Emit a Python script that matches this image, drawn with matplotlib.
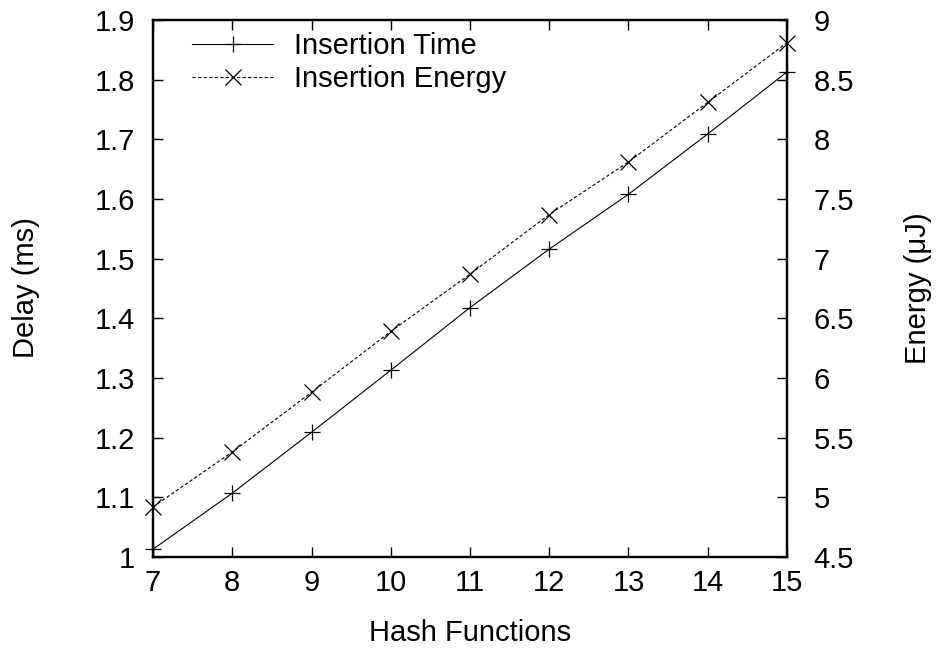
import matplotlib
matplotlib.use("Agg")
import matplotlib.pyplot as plt

plt.rcParams['font.family'] = ['Liberation Sans', 'DejaVu Sans']

# data
hash_functions = [7, 8, 9, 10, 11, 12, 13, 14, 15]
delay_ms = [1.013, 1.107, 1.209, 1.313, 1.418, 1.516, 1.608, 1.709, 1.813]
energy_uj = [4.92, 5.38, 5.88, 6.39, 6.87, 7.37, 7.81, 8.31, 8.81]

delay_ticks = [1.0, 1.1, 1.2, 1.3, 1.4, 1.5, 1.6, 1.7, 1.8, 1.9]
delay_labels = ['1', '1.1', '1.2', '1.3', '1.4', '1.5', '1.6', '1.7', '1.8', '1.9']
energy_ticks = [4.5, 5, 5.5, 6, 6.5, 7, 7.5, 8, 8.5, 9]
energy_labels = ['4.5', '5', '5.5', '6', '6.5', '7', '7.5', '8', '8.5', '9']

FS = 21

fig = plt.figure(figsize=(9.4, 6.5), dpi=100)
ax = fig.add_axes([0.1628, 0.1431, 0.6744, 0.8261])
ax2 = ax.twinx()

l1, = ax.plot(hash_functions, delay_ms, color='black', lw=0.8,
              marker='+', ms=12, mew=0.9, label='Insertion Time', clip_on=False)
l2, = ax2.plot(hash_functions, energy_uj, color='black', lw=0.8, ls=(0, (3, 2)),
               marker='x', ms=11, mew=0.9, label='Insertion Energy', clip_on=False)

ax.set_xlim(7, 15)
ax.set_ylim(1.0, 1.9)
ax2.set_ylim(4.5, 9.0)
ax.set_xticks(hash_functions)
ax.set_yticks(delay_ticks)
ax.set_yticklabels(delay_labels)
ax2.set_yticks(energy_ticks)
ax2.set_yticklabels(energy_labels)

ax.tick_params(axis='x', direction='in', top=True, length=7, width=1, labelsize=FS, pad=9)
ax.tick_params(axis='y', direction='in', right=False, length=7, width=1, labelsize=FS, pad=13)
ax2.tick_params(axis='y', direction='in', length=7, width=1, labelsize=FS, pad=19)

for a in (ax, ax2):
    for s in a.spines.values():
        s.set_linewidth(1.6)

fig.text(470 / 940, 1 - 641 / 650, 'Hash Functions', fontsize=FS, ha='center', va='baseline')
fig.text(26 / 940, 1 - 288 / 650, 'Delay (ms)', fontsize=FS, ha='center', va='center', rotation=90)
fig.text(918 / 940, 1 - 288 / 650, 'Energy (μJ)', fontsize=FS, ha='center', va='center', rotation=90)

ax.legend(handles=[l1, l2], loc='upper left', bbox_to_anchor=(0.029, 1.015),
          frameon=False, fontsize=FS, handlelength=2.8, handletextpad=0.7,
          labelspacing=0.15, borderpad=0.2)

fig.savefig('out.png', dpi=100)
